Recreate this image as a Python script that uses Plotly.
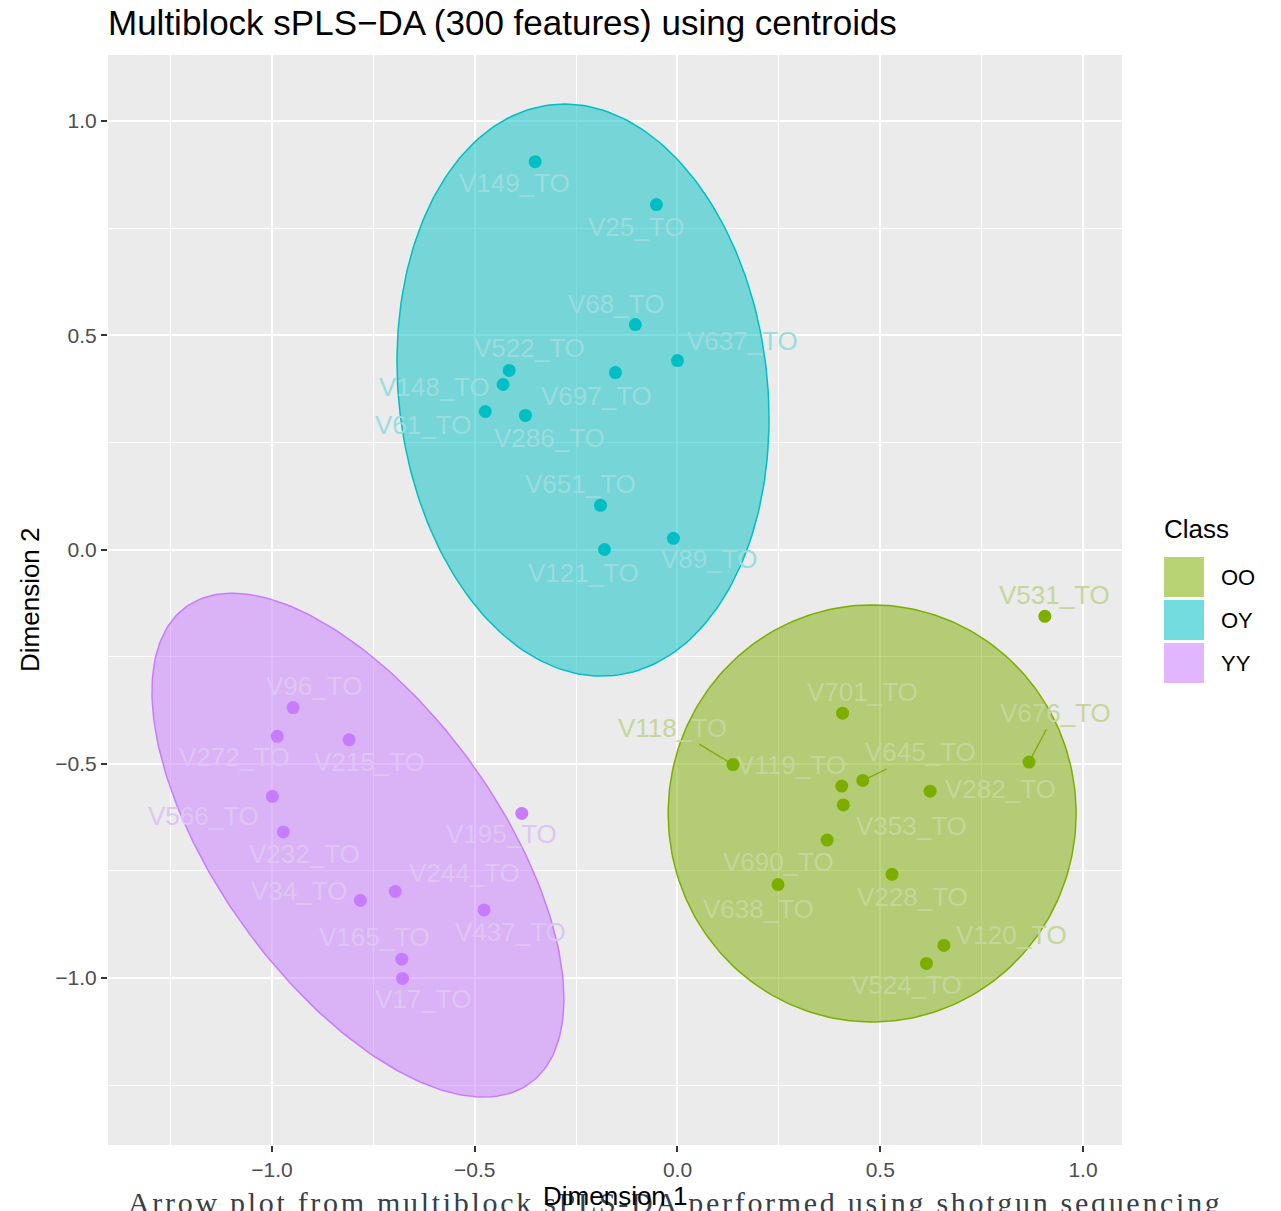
import numpy as np
import plotly.graph_objects as go

# ---- sample scores on the first two dimensions, per class ----
class_names = ["OO", "OY", "YY"]
class_colors = ["#7CAE00", "#00BFC4", "#C77CFF"]

oo_names = ["V531_TO", "V701_TO", "V118_TO", "V676_TO", "V645_TO", "V119_TO", "V282_TO",
            "V353_TO", "V690_TO", "V228_TO", "V638_TO", "V120_TO", "V524_TO"]
oo_dim1 = [0.906, 0.407, 0.137, 0.867, 0.457, 0.405, 0.623, 0.409, 0.369, 0.529, 0.248, 0.657, 0.614]
oo_dim2 = [-0.156, -0.382, -0.502, -0.496, -0.539, -0.552, -0.564, -0.596, -0.678, -0.758, -0.782, -0.924, -0.966]

oy_names = ["V149_TO", "V25_TO", "V68_TO", "V637_TO", "V522_TO", "V697_TO", "V148_TO",
            "V61_TO", "V286_TO", "V651_TO", "V89_TO", "V121_TO"]
oy_dim1 = [-0.351, -0.052, -0.104, 0.000, -0.415, -0.153, -0.430, -0.474, -0.375, -0.190, -0.010, -0.180]
oy_dim2 = [0.905, 0.805, 0.525, 0.441, 0.418, 0.413, 0.385, 0.322, 0.313, 0.103, 0.026, 0.000]

yy_names = ["V96_TO", "V272_TO", "V215_TO", "V566_TO", "V232_TO", "V195_TO", "V244_TO",
            "V34_TO", "V437_TO", "V165_TO", "V17_TO"]
yy_dim1 = [-0.948, -0.987, -0.810, -0.999, -0.972, -0.384, -0.696, -0.782, -0.477, -0.680, -0.678]
yy_dim2 = [-0.369, -0.436, -0.444, -0.576, -0.659, -0.616, -0.798, -0.819, -0.841, -0.956, -1.001]

# per-class 95% confidence ellipse summary: centre, spread on each dimension, correlation
ellipse_centre_dim1 = [0.480, -0.233, -0.788]
ellipse_centre_dim2 = [-0.616, 0.372, -0.690]
ellipse_sd_dim1 = [0.2055, 0.1874, 0.2075]
ellipse_sd_dim2 = [0.1988, 0.2727, 0.2402]
ellipse_corr = [0.0, -0.10, -0.61]
ellipse_level = 0.95

x_tick_vals = [-1.0, -0.5, 0.0, 0.5, 1.0]
y_tick_vals = [-1.0, -0.5, 0.0, 0.5, 1.0]
minor_vals = [-1.25, -0.75, -0.25, 0.25, 0.75]

# ---- label placement (pixel offsets of each label from its point; True = leader line) ----
oo_label_offsets = [(10, -21, False), (20, -21, False), (-61, -37, True), (26, -49, True),
                    (58, -28, True), (-50, -21, False), (70, -2, False), (68, 21, False),
                    (-49, 22, False), (20, 23, False), (-20, 24, False), (68, -10, False),
                    (-20, 22, False)]
oy_label_offsets = [(-21, 21, False), (-20, 22, False), (-19, -21, False), (65, -20, False),
                    (20, -22, False), (-19, 23, False), (-69, 2, False), (-62, 13, False),
                    (24, 23, False), (-20, -21, False), (36, 21, False), (-21, 23, False)]
yy_label_offsets = [(21, -22, False), (-43, 21, False), (20, 22, False), (-69, 20, False),
                    (21, 22, False), (-20, 21, False), (69, -18, False), (-61, -9, False),
                    (26, 22, False), (-27, -22, False), (20, 21, False)]

groups = [
    (oo_names, oo_dim1, oo_dim2, oo_label_offsets),
    (oy_names, oy_dim1, oy_dim2, oy_label_offsets),
    (yy_names, yy_dim1, yy_dim2, yy_label_offsets),
]

SANS = "Liberation Sans, Arial, Helvetica, sans-serif"
PANEL_BG = "#EBEBEB"


def hex_rgb(h):
    h = h.lstrip("#")
    return tuple(int(h[i:i + 2], 16) for i in (0, 2, 4))


def rgba(h, a):
    r, g, b = hex_rgb(h)
    return f"rgba({r},{g},{b},{a})"


def blend(h, frac, base=(235, 235, 235)):
    r, g, b = hex_rgb(h)
    c = [round(frac * v + (1 - frac) * w) for v, w in zip((r, g, b), base)]
    return "rgb({},{},{})".format(*c)


def ellipse_outline(cx, cy, sx, sy, r, level, n=240):
    """Normal-theory confidence ellipse from centre, spreads and correlation."""
    cov = np.array([[sx * sx, r * sx * sy], [r * sx * sy, sy * sy]])
    t = np.sqrt(-2.0 * np.log(1.0 - level))  # sqrt of chi-square(2) quantile
    vals, vecs = np.linalg.eigh(cov)
    theta = np.linspace(0, 2 * np.pi, n)
    circle = np.vstack([np.cos(theta), np.sin(theta)])
    ell = (vecs @ np.diag(np.sqrt(vals)) @ circle) * t
    return cx + ell[0], cy + ell[1]


fig = go.Figure()

# confidence ellipses
for i, col in enumerate(class_colors):
    ex, ey = ellipse_outline(ellipse_centre_dim1[i], ellipse_centre_dim2[i],
                             ellipse_sd_dim1[i], ellipse_sd_dim2[i],
                             ellipse_corr[i], ellipse_level)
    fig.add_trace(go.Scatter(
        x=ex, y=ey, mode="lines", fill="toself",
        fillcolor=rgba(col, 0.5), line=dict(color=col, width=1.5),
        hoverinfo="skip", showlegend=False))

# sample points
for (names, d1, d2, _), col, cls in zip(groups, class_colors, class_names):
    fig.add_trace(go.Scatter(
        x=d1, y=d2, mode="markers", name=cls, text=names,
        marker=dict(color=col, size=13, line=dict(width=0)),
        showlegend=False))

annotations = []

# sample labels
for (names, d1, d2, offs), col in zip(groups, class_colors):
    for nm, xv, yv, (dx, dy, seg) in zip(names, d1, d2, offs):
        annotations.append(dict(
            x=xv, y=yv, xref="x", yref="y", text=nm,
            showarrow=True, ax=dx, ay=dy, axref="pixel", ayref="pixel",
            arrowhead=0, arrowwidth=1.3, standoff=5,
            arrowcolor=col if seg else "rgba(0,0,0,0)",
            font=dict(family=SANS, size=26, color=blend(col, 0.34))))

# caption under the plot
caption = "Arrow plot from multiblock sPLS-DA performed using shotgun sequencing"
annotations.append(dict(
    x=(675 - 108) / 1014, y=0, xref="paper", yref="paper",
    xanchor="center", yanchor="top", yshift=-39, showarrow=False,
    text=f'<span style="letter-spacing:2.7px">{caption}</span>',
    font=dict(family="Liberation Serif, Times New Roman, serif", size=30, color="#36404A")))

# axis titles
annotations.append(dict(
    x=0.5, y=0, xref="paper", yref="paper", xanchor="center", yanchor="middle",
    yshift=-51, showarrow=False, text="Dimension 1",
    font=dict(family=SANS, size=26, color="#000000")))
annotations.append(dict(
    x=0, y=0.5, xref="paper", yref="paper", xanchor="center", yanchor="middle",
    xshift=-78, showarrow=False, text="Dimension 2", textangle=-90,
    font=dict(family=SANS, size=26, color="#000000")))


# legend drawn as filled keys beside the panel
def px_x(px):
    return (px - 108) / 1014


def px_y(py):
    return (1145 - py) / 1090


shapes = []
annotations.append(dict(
    x=px_x(1162), y=px_y(529), xref="paper", yref="paper", xanchor="left",
    yanchor="middle", showarrow=False, text="Class",
    font=dict(family=SANS, size=26, color="#000000")))
for i, (cls, col) in enumerate(zip(class_names, class_colors)):
    top = 557 + i * 43
    shapes.append(dict(
        type="rect", xref="paper", yref="paper",
        x0=px_x(1164), x1=px_x(1204), y0=px_y(top + 40), y1=px_y(top),
        fillcolor=rgba(col, 0.55), line=dict(width=0), layer="above"))
    annotations.append(dict(
        x=px_x(1219), y=px_y(top + 20), xref="paper", yref="paper",
        xanchor="left", yanchor="middle", showarrow=False, text=cls,
        font=dict(family=SANS, size=22, color="#000000")))

axis_common = dict(
    showgrid=True, gridcolor="white", gridwidth=2,
    zeroline=False, showline=False,
    ticks="outside", ticklen=6, tickwidth=1.5, tickcolor="#333333",
    tickfont=dict(family=SANS, size=21, color="#4D4D4D"),
    tickformat=".1f",
)

fig.update_layout(
    width=1281, height=1211,
    margin=dict(l=108, r=159, t=55, b=66, pad=0),
    paper_bgcolor="white", plot_bgcolor=PANEL_BG,
    showlegend=False,
    title=dict(
        text="Multiblock sPLS\u2212DA (300 features) using centroids",
        x=0, xref="paper", xanchor="left",
        y=1 - 23 / 1211, yref="container", yanchor="middle",
        font=dict(family=SANS, size=35, color="#000000")),
    xaxis=dict(range=[-1.4044, 1.0962], tickvals=x_tick_vals,
               minor=dict(tickvals=minor_vals, showgrid=True, gridcolor="white",
                          gridwidth=1, ticks=""),
               **axis_common),
    yaxis=dict(range=[-1.3897, 1.154], tickvals=y_tick_vals,
               minor=dict(tickvals=minor_vals, showgrid=True, gridcolor="white",
                          gridwidth=1, ticks=""),
               **axis_common),
    annotations=annotations,
    shapes=shapes,
)

fig.write_html("out.html")
